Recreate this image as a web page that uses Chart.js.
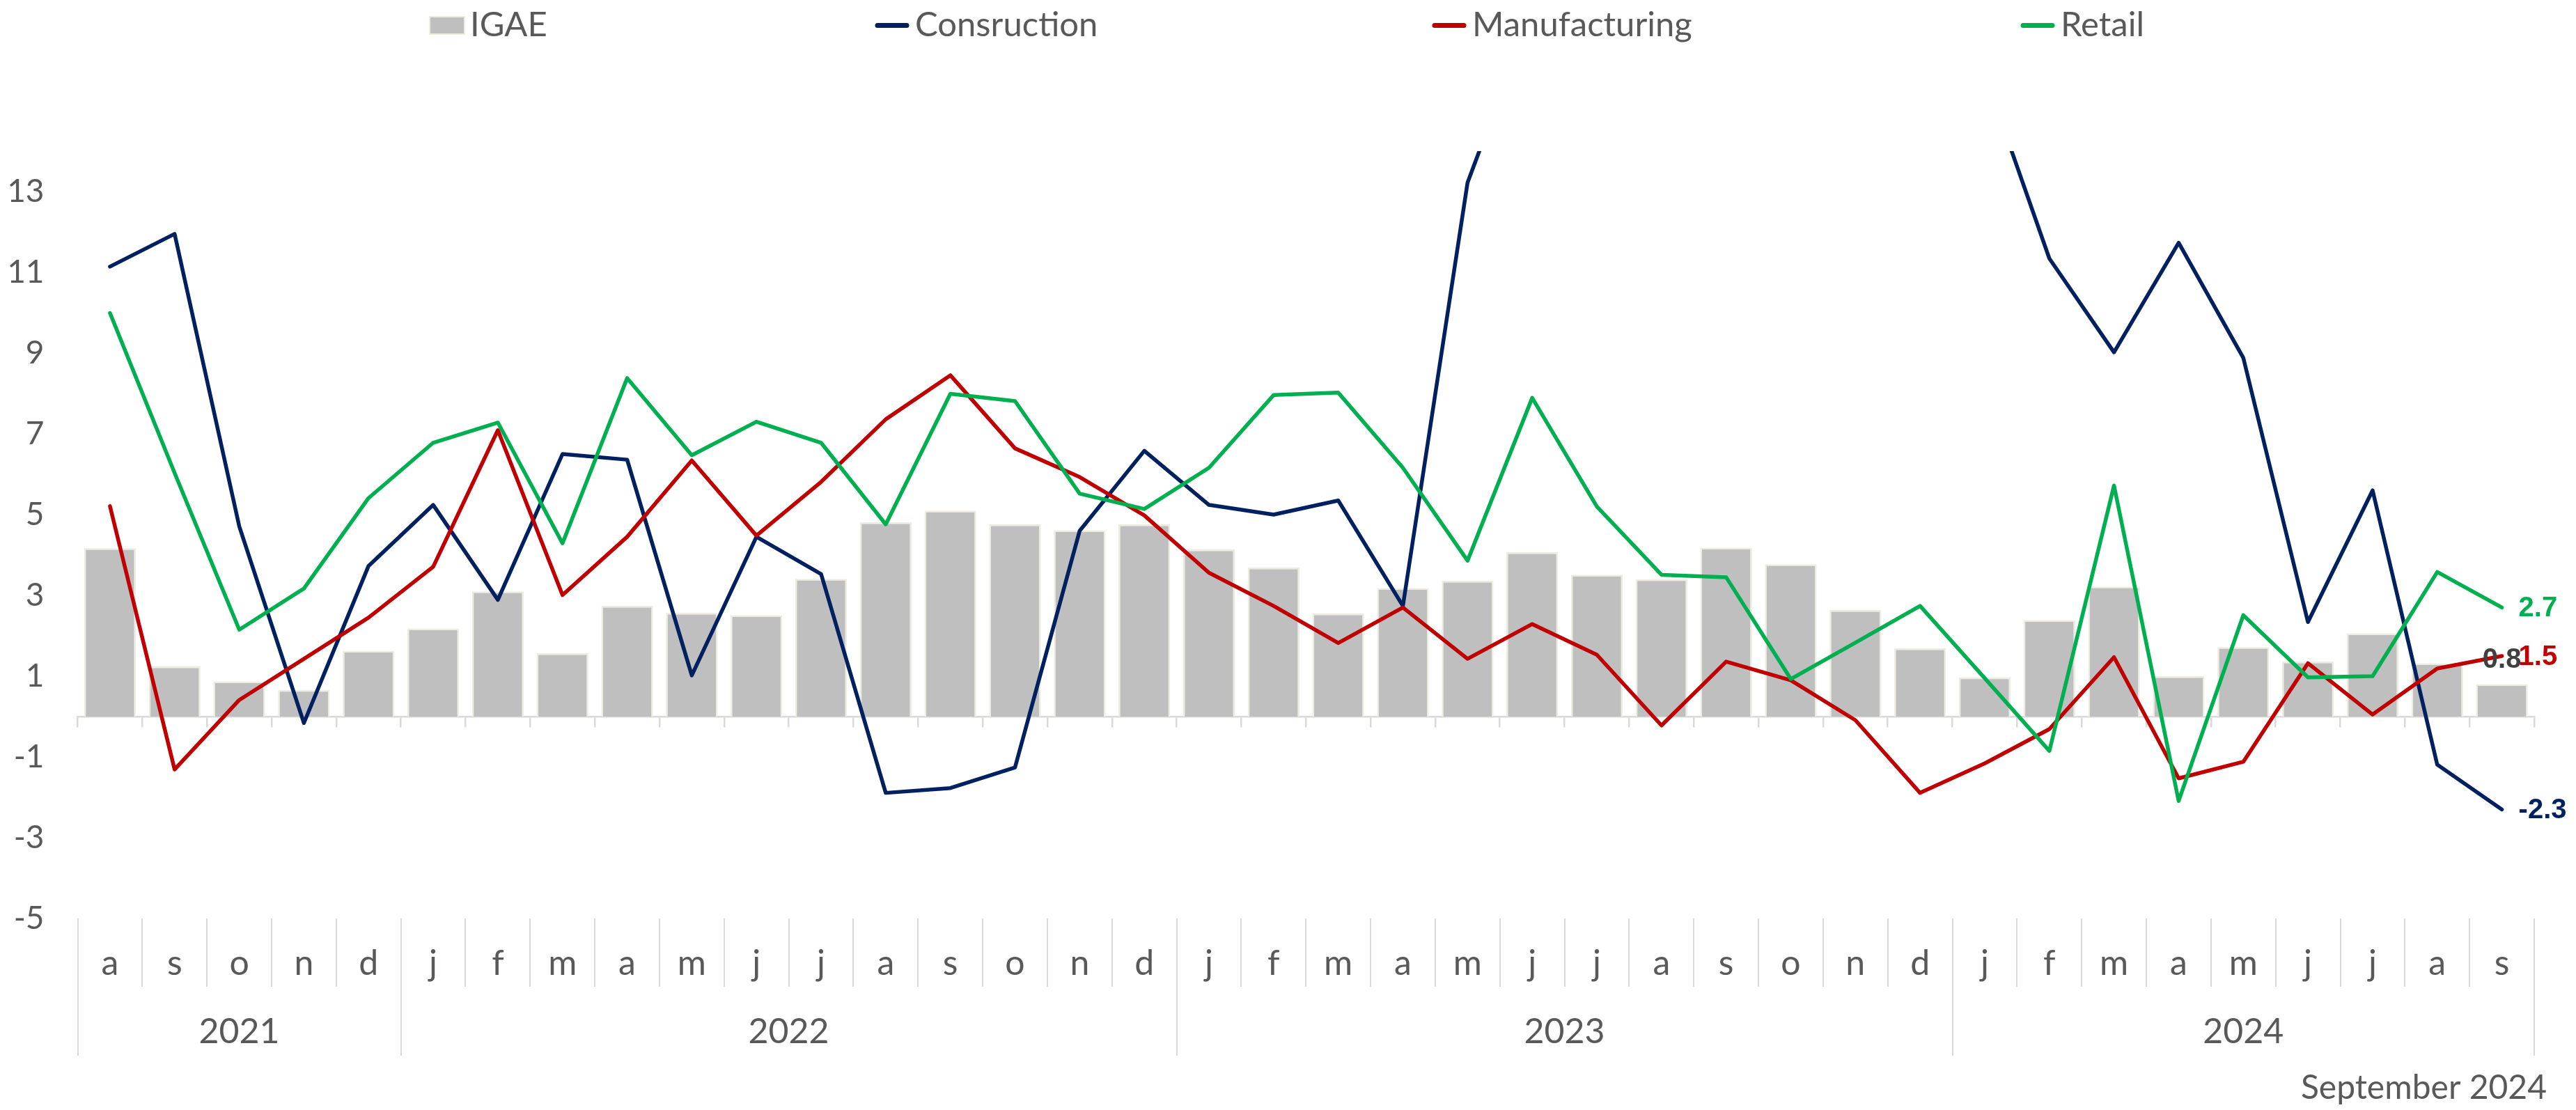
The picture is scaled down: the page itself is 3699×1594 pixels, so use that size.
<!DOCTYPE html>
<html>
<head>
<meta charset="utf-8">
<script src="https://cdn.jsdelivr.net/npm/chart.js@4"></script>
<style>
  html, body { margin: 0; padding: 0; background: #ffffff; }
  #wrap { position: relative; width: 3699px; height: 1594px; }
  canvas { display: block; }
</style>
</head>
<body>
<div id="wrap"><canvas id="c" width="3699" height="1594"></canvas></div>
<script>
// ---------------- DATA ----------------
const monthLabels = [
  'a','s','o','n','d',
  'j','f','m','a','m','j','j','a','s','o','n','d',
  'j','f','m','a','m','j','j','a','s','o','n','d',
  'j','f','m','a','m','j','j','a','s'
];
const years = ['2021', '2022', '2023', '2024'];
const monthsPerYear = [5, 12, 12, 9];
const seriesNames = ['IGAE', 'Consruction', 'Manufacturing', 'Retail'];

const igae = [
  4.17, 1.24, 0.87, 0.66, 1.63,
  2.18, 3.10, 1.57, 2.74, 2.57, 2.51, 3.41, 4.81, 5.10, 4.76, 4.61, 4.76,
  4.14, 3.69, 2.55, 3.18, 3.36, 4.07, 3.51, 3.40, 4.18, 3.77, 2.64, 1.69,
  0.97, 2.39, 3.22, 1.00, 1.72, 1.36, 2.06, 1.32, 0.8
];
const construction = [
  11.14, 11.95, 4.71, -0.16, 3.73,
  5.24, 2.89, 6.50, 6.36, 1.02, 4.45, 3.53, -1.89, -1.77, -1.26, 4.60, 6.58,
  5.24, 5.00, 5.35, 2.74, 13.22, 17.5, 21.0, 24.4, 26.0, 22.5, 19.0, 17.0,
  15.9, 11.34, 9.02, 11.73, 8.88, 2.34, 5.60, -1.19, -2.3
];
const manufacturing = [
  5.21, -1.31, 0.41, 1.43, 2.45,
  3.71, 7.09, 3.01, 4.45, 6.34, 4.48, 5.81, 7.36, 8.45, 6.64, 5.93, 4.98,
  3.56, 2.74, 1.82, 2.70, 1.43, 2.29, 1.53, -0.22, 1.36, 0.90, -0.09, -1.89,
  -1.16, -0.31, 1.47, -1.53, -1.12, 1.32, 0.05, 1.19, 1.5
];
const retail = [
  9.99, 6.03, 2.15, 3.17, 5.41,
  6.78, 7.28, 4.29, 8.38, 6.47, 7.30, 6.78, 4.76, 7.99, 7.81, 5.52, 5.14,
  6.16, 7.96, 8.02, 6.16, 3.86, 7.89, 5.20, 3.51, 3.45, 0.93, 1.83, 2.74,
  0.95, -0.85, 5.72, -2.09, 2.51, 0.97, 1.00, 3.58, 2.7
];
const yTicks = [-5, -3, -1, 1, 3, 5, 7, 9, 11, 13];
const noteText = 'September 2024';

// ---------------- derived year spans ----------------
const yearBoundaries = [-0.5];
const yearCenters = [];
(function () {
  let acc = 0;
  monthsPerYear.forEach(n => {
    yearCenters.push(acc + (n - 1) / 2);
    acc += n;
    yearBoundaries.push(acc - 0.5);
  });
})();

// ---------------- styles ----------------
const FONT = "Lato, 'Noto Sans', sans-serif";
const GRAY = '#595959';
const AXISGRAY = '#D9D9D9';

const legendPlugin = {
  id: 'refLegend',
  afterDraw(chart) {
    const ctx = chart.ctx;
    const xs = [616, 1257, 2057, 2902];
    chart.data.datasets.forEach((ds, i) => {
      const x = xs[i];
      let tx;
      ctx.save();
      if (ds.type === 'bar') {
        ctx.fillStyle = ds.backgroundColor;
        ctx.fillRect(x, 23, 52, 27);
        ctx.strokeStyle = ds.borderColor;
        ctx.lineWidth = 2;
        ctx.strokeRect(x + 1, 24, 50, 25);
        tx = x + 59;
      } else {
        ctx.strokeStyle = ds.borderColor;
        ctx.lineWidth = 7;
        ctx.lineCap = 'round';
        ctx.beginPath();
        ctx.moveTo(x + 3, 36.5);
        ctx.lineTo(x + 45, 36.5);
        ctx.stroke();
        tx = x + 57;
      }
      ctx.font = '49px ' + FONT;
      ctx.fillStyle = GRAY;
      ctx.textBaseline = 'alphabetic';
      ctx.textAlign = 'left';
      ctx.fillText(ds.label, tx, 52);
      ctx.restore();
    });
    ctx.save();
    ctx.font = '48px ' + FONT;
    ctx.fillStyle = GRAY;
    ctx.textAlign = 'right';
    ctx.textBaseline = 'alphabetic';
    ctx.fillText(noteText, 3657, 1578);
    ctx.restore();
  }
};

const endLabels = {
  id: 'endLabels',
  afterDatasetsDraw(chart) {
    const ctx = chart.ctx;
    chart.data.datasets.forEach((ds, i) => {
      const meta = chart.getDatasetMeta(i);
      const el = meta.data[meta.data.length - 1];
      const v = ds.data[ds.data.length - 1];
      ctx.save();
      ctx.font = "bold 40px 'Liberation Sans', Arial, sans-serif";
      ctx.textBaseline = 'middle';
      if (ds.type === 'bar') {
        ctx.fillStyle = '#404040';
        ctx.textAlign = 'center';
        ctx.fillText(v.toFixed(1), el.x, el.y - 35);
      } else {
        ctx.fillStyle = ds.borderColor;
        ctx.textAlign = 'left';
        ctx.fillText(v.toFixed(1), el.x + 24, el.y + 2);
      }
      ctx.restore();
    });
  }
};

const lineCommon = {
  type: 'line', borderWidth: 5.5, pointRadius: 0, pointHoverRadius: 0,
  tension: 0, fill: false, borderJoinStyle: 'round', borderCapStyle: 'round', clip: 0
};

new Chart(document.getElementById('c'), {
  data: {
    labels: monthLabels,
    datasets: [
      { type: 'bar', label: seriesNames[0], data: igae, backgroundColor: '#BFBFBF',
        borderColor: '#EEECE1', borderWidth: 2.5, barPercentage: 0.8, categoryPercentage: 1, order: 4 },
      Object.assign({}, lineCommon, { label: seriesNames[1], data: construction, borderColor: '#002060', order: 3 }),
      Object.assign({}, lineCommon, { label: seriesNames[2], data: manufacturing, borderColor: '#C00000', order: 2 }),
      Object.assign({}, lineCommon, { label: seriesNames[3], data: retail, borderColor: '#00B050', order: 1 })
    ]
  },
  options: {
    responsive: false,
    animation: false,
    layout: { padding: { top: 217, bottom: 78, left: 0, right: 60 } },
    plugins: { legend: { display: false }, tooltip: { enabled: false } },
    scales: {
      y: {
        min: -5, max: 14,
        afterBuildTicks: a => { a.ticks = yTicks.map(v => ({ value: v })); },
        afterFit: s => { s.width = 111.5; },
        grid: { display: false, drawTicks: false },
        border: { display: false },
        ticks: { padding: 48, color: GRAY, font: { family: FONT, size: 46 } }
      },
      x: {
        type: 'category', position: 'bottom', offset: true, weight: 0,
        afterFit: s => { s.height = 98; },
        grid: { offset: true, drawOnChartArea: false, tickLength: 98, color: AXISGRAY, lineWidth: 2 },
        border: { display: false },
        ticks: { color: GRAY, font: { family: FONT, size: 50 }, padding: -63, maxRotation: 0, autoSkip: false }
      },
      xZero: {
        type: 'category', position: { y: 0 }, offset: true,
        grid: { offset: true, drawOnChartArea: false, tickLength: 14, color: AXISGRAY, lineWidth: 2.5 },
        border: { display: true, color: AXISGRAY, width: 2.5 },
        ticks: { display: false }
      },
      xYear: {
        type: 'linear', position: 'bottom', weight: 1, min: -0.5, max: 37.5, offset: false,
        afterFit: s => { s.height = 99; },
        afterBuildTicks: a => {
          a.ticks = yearBoundaries.concat(yearCenters).sort((p, q) => p - q).map(v => ({ value: v }));
        },
        grid: {
          drawOnChartArea: false, tickLength: 99, lineWidth: 2,
          color: c => (c.tick && yearBoundaries.includes(c.tick.value)) ? AXISGRAY : 'rgba(0,0,0,0)'
        },
        border: { display: false },
        ticks: {
          color: GRAY, font: { family: FONT, size: 50 }, padding: -64, maxRotation: 0, autoSkip: false,
          callback: v => { const k = yearCenters.indexOf(v); return k >= 0 ? years[k] : ''; }
        }
      }
    }
  },
  plugins: [legendPlugin, endLabels]
});
</script>
</body>
</html>
